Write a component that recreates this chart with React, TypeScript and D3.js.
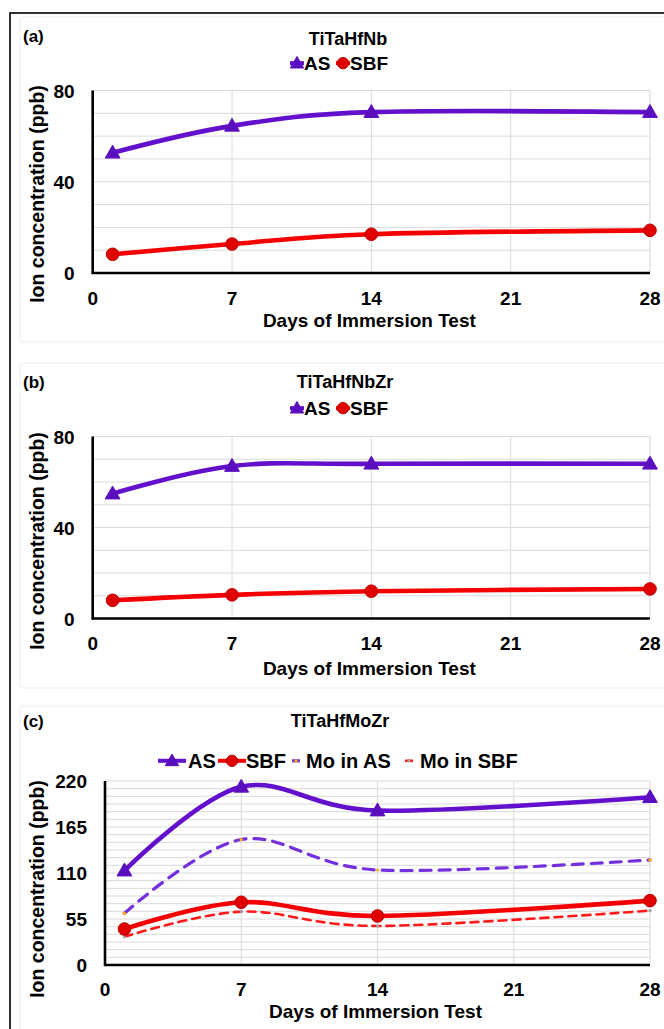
import React from 'react';
import * as d3 from 'd3';

// ---------- data ----------
const days = [1, 7, 14, 28];
const xTickValues = [0, 7, 14, 21, 28];
const yTicksAB = [0, 40, 80];
const yTicksC = [0, 55, 110, 165, 220];
const panelTitles = ['TiTaHfNb', 'TiTaHfNbZr', 'TiTaHfMoZr'];
const panelLetters = ['(a)', '(b)', '(c)'];
const seriesNames = ['AS', 'SBF', 'Mo in AS', 'Mo in SBF'];

const asA = [52.7, 64.5, 70.5, 70.5];
const sbfA = [8.2, 12.7, 17, 18.7];
const asB = [54.9, 67, 68, 68];
const sbfB = [8, 10.4, 12, 13];
const asC = [112.8, 213, 184.6, 200.6];
const sbfC = [43, 75, 58.6, 77];
const moAsC = [61.8, 150, 113.6, 125.6];
const moSbfC = [33.8, 63.8, 46.7, 65];

// ---------- style ----------
const FONT = "'Liberation Sans', Arial, Helvetica, sans-serif";
const PURPLE = '#6310CC';
const PURPLE_MARK = '#5A0FBE';
const PURPLE_DASH = '#7430DD';
const RED = '#F50000';
const RED_MARK = '#E00000';
const GRID = '#dadada';

type Series = { values: number[]; kind: 'tri' | 'circ' | 'dashAS' | 'dashSBF' };

type Layout = {
  top: number; bottom: number;
  x0: number; x1: number; yTop: number; yBot: number; yMax: number;
  gridStep: number; yTicks: number[];
  letterY: number; titleX: number; titleY: number; legendY: number;
  ticksY: number; axisTitleY: number; yTitleC: number;
  legendSize: number;
  legend: { kind: Series['kind']; name: string; icon: number; text: number }[];
};

const triPath = (size: number) => d3.symbol(d3.symbolTriangle, size)() as string;

function Marker({ kind, x, y, scale = 1 }: { kind: Series['kind']; x: number; y: number; scale?: number }) {
  if (kind === 'tri')
    return <path d={triPath(95 * scale * scale)} transform={`translate(${x},${y + 1})`} fill={PURPLE_MARK} stroke={PURPLE_MARK} strokeWidth={1} />;
  if (kind === 'circ')
    return <circle cx={x} cy={y} r={6.3 * scale} fill={RED_MARK} stroke="#B80000" strokeWidth={1} />;
  if (kind === 'dashAS') return <circle cx={x} cy={y} r={1.6} fill="#FFB000" />;
  return <circle cx={x} cy={y} r={1.6} fill="#A0A0A0" />;
}

function Panel({ idx, L, series }: { idx: number; L: Layout; series: Series[] }) {
  const xs = d3.scaleLinear().domain([0, 28]).range([L.x0, L.x1]);
  const ys = d3.scaleLinear().domain([0, L.yMax]).range([L.yBot, L.yTop]);
  const line = d3
    .line<number>()
    .x((_, i) => xs(days[i]))
    .y((d) => ys(d))
    .curve(d3.curveCardinal.tension(0));
  const nGrid = Math.round(L.yMax / L.gridStep);
  const gridVals = d3.range(1, nGrid + 1).map((i) => i * L.gridStep);

  const style = (k: Series['kind']) => {
    if (k === 'tri') return { stroke: PURPLE, strokeWidth: 4.6 };
    if (k === 'circ') return { stroke: RED, strokeWidth: 4.6 };
    if (k === 'dashAS') return { stroke: PURPLE_DASH, strokeWidth: 3.2, strokeDasharray: '11 8' };
    return { stroke: '#FF1A1A', strokeWidth: 2.6, strokeDasharray: '8 6' };
  };
  const order = [...series].sort((a, b) => (a.kind.startsWith('dash') ? -1 : 1) - (b.kind.startsWith('dash') ? -1 : 1));

  return (
    <g>
      <rect x={20} y={L.top} width={700} height={L.bottom - L.top} fill="none" stroke="#ececec" strokeWidth={1} rx={3} />
      {/* gridlines */}
      {gridVals.map((v) => (
        <line key={'h' + v} x1={L.x0} x2={L.x1} y1={ys(v)} y2={ys(v)} stroke={GRID} strokeWidth={1} />
      ))}
      {xTickValues.slice(1).map((v) => (
        <line key={'v' + v} x1={xs(v)} x2={xs(v)} y1={L.yTop} y2={L.yBot} stroke={GRID} strokeWidth={1} />
      ))}
      {/* lines */}
      {order.map((s, i) => (
        <path key={'l' + i} d={line(s.values) as string} fill="none" strokeLinecap="round" {...style(s.kind)} />
      ))}
      {order.map((s, i) =>
        s.values.map((v, j) => <Marker key={'m' + i + '-' + j} kind={s.kind} x={xs(days[j])} y={ys(v)} />)
      )}
      {/* axes */}
      <line x1={L.x0} x2={L.x0} y1={L.yTop} y2={L.yBot + 1} stroke="#000" strokeWidth={2.6} />
      <line x1={L.x0 - 1} x2={L.x1} y1={L.yBot} y2={L.yBot} stroke="#000" strokeWidth={2.6} />
      {/* tick labels */}
      {L.yTicks.map((v) => (
        <text key={'yt' + v} x={L.x0 - 18} y={ys(v) + 7} textAnchor="end" fontSize={19} fontWeight="bold" fontFamily={FONT}>
          {v}
        </text>
      ))}
      {xTickValues.map((v) => (
        <text key={'xt' + v} x={xs(v)} y={L.ticksY} textAnchor="middle" fontSize={19} fontWeight="bold" fontFamily={FONT}>
          {v}
        </text>
      ))}
      {/* axis titles */}
      <text x={(L.x0 + L.x1) / 2 - 2} y={L.axisTitleY} textAnchor="middle" fontSize={19} fontWeight="bold" fontFamily={FONT}>
        Days of Immersion Test
      </text>
      <text
        transform={`translate(44,${L.yTitleC}) rotate(-90)`}
        textAnchor="middle"
        fontSize={19.5}
        fontWeight="bold"
        fontFamily={FONT}
      >
        Ion concentration (ppb)
      </text>
      {/* title, letter */}
      <text x={23} y={L.letterY} fontSize={17} fontWeight="bold" fontFamily={FONT}>
        {panelLetters[idx]}
      </text>
      <text x={L.titleX} y={L.titleY} textAnchor="middle" fontSize={18} fontWeight="bold" fontFamily={FONT}>
        {panelTitles[idx]}
      </text>
      {/* legend */}
      {L.legend.map((it, i) => {
        const cy = L.legendY - L.legendSize * 0.36;
        const big = idx === 2;
        let icon: React.ReactNode = null;
        if (it.kind === 'tri' || it.kind === 'circ') {
          const half = big ? 14 : 7;
          icon = (
            <g>
              <line x1={it.icon - half} x2={it.icon + half} y1={cy} y2={cy} stroke={it.kind === 'tri' ? PURPLE : RED} strokeWidth={4} />
              <Marker kind={it.kind} x={it.icon} y={cy} scale={0.9} />
            </g>
          );
        } else {
          icon = (
            <g>
              <line
                x1={it.icon - 4}
                x2={it.icon + 4}
                y1={cy}
                y2={cy}
                stroke={it.kind === 'dashAS' ? PURPLE_DASH : '#FF1A1A'}
                strokeWidth={it.kind === 'dashAS' ? 3.2 : 2.6}
              />
              <Marker kind={it.kind} x={it.icon} y={cy} />
            </g>
          );
        }
        return (
          <g key={'lg' + i}>
            {icon}
            <text x={it.text} y={L.legendY} fontSize={L.legendSize} fontWeight="bold" fontFamily={FONT}>
              {it.name}
            </text>
          </g>
        );
      })}
    </g>
  );
}

const legendAB = (): Layout['legend'] => [
  { kind: 'tri', name: seriesNames[0], icon: 297, text: 304 },
  { kind: 'circ', name: seriesNames[1], icon: 343, text: 350 },
];

const layouts: Layout[] = [
  {
    top: 17, bottom: 342, x0: 92.7, x1: 650, yTop: 90.5, yBot: 273, yMax: 80, gridStep: 10, yTicks: yTicksAB,
    letterY: 42, titleX: 348, titleY: 45, legendY: 70, ticksY: 305, axisTitleY: 327, yTitleC: 194, legendSize: 19,
    legend: legendAB(),
  },
  {
    top: 363, bottom: 688, x0: 92.7, x1: 650, yTop: 436.5, yBot: 618.5, yMax: 80, gridStep: 10, yTicks: yTicksAB,
    letterY: 388, titleX: 345, titleY: 388, legendY: 415, ticksY: 650, axisTitleY: 675, yTitleC: 541, legendSize: 19,
    legend: legendAB(),
  },
  {
    top: 706, bottom: 1100, x0: 105, x1: 650, yTop: 781, yBot: 965, yMax: 220, gridStep: 55 / 6, yTicks: yTicksC,
    letterY: 727, titleX: 340, titleY: 727, legendY: 768, ticksY: 996, axisTitleY: 1018, yTitleC: 889, legendSize: 20,
    legend: [
      { kind: 'tri', name: seriesNames[0], icon: 172, text: 188 },
      { kind: 'circ', name: seriesNames[1], icon: 232, text: 246 },
      { kind: 'dashAS', name: seriesNames[2], icon: 296, text: 306 },
      { kind: 'dashSBF', name: seriesNames[3], icon: 409, text: 420 },
    ],
  },
];

export default function App() {
  const panels: Series[][] = [
    [
      { values: asA, kind: 'tri' },
      { values: sbfA, kind: 'circ' },
    ],
    [
      { values: asB, kind: 'tri' },
      { values: sbfB, kind: 'circ' },
    ],
    [
      { values: moAsC, kind: 'dashAS' },
      { values: moSbfC, kind: 'dashSBF' },
      { values: asC, kind: 'tri' },
      { values: sbfC, kind: 'circ' },
    ],
  ];
  return (
    <svg
      width={664}
      height={1029}
      viewBox="0 0 664 1029"
      style={{ position: 'absolute', left: 0, top: 0, background: '#fff' }}
    >
      <rect x={0} y={0} width={664} height={1029} fill="#fff" />
      {layouts.map((L, i) => (
        <Panel key={i} idx={i} L={L} series={panels[i]} />
      ))}
      <rect x={10} y={13} width={720} height={1100} fill="none" stroke="#000" strokeWidth={1.6} />
    </svg>
  );
}
